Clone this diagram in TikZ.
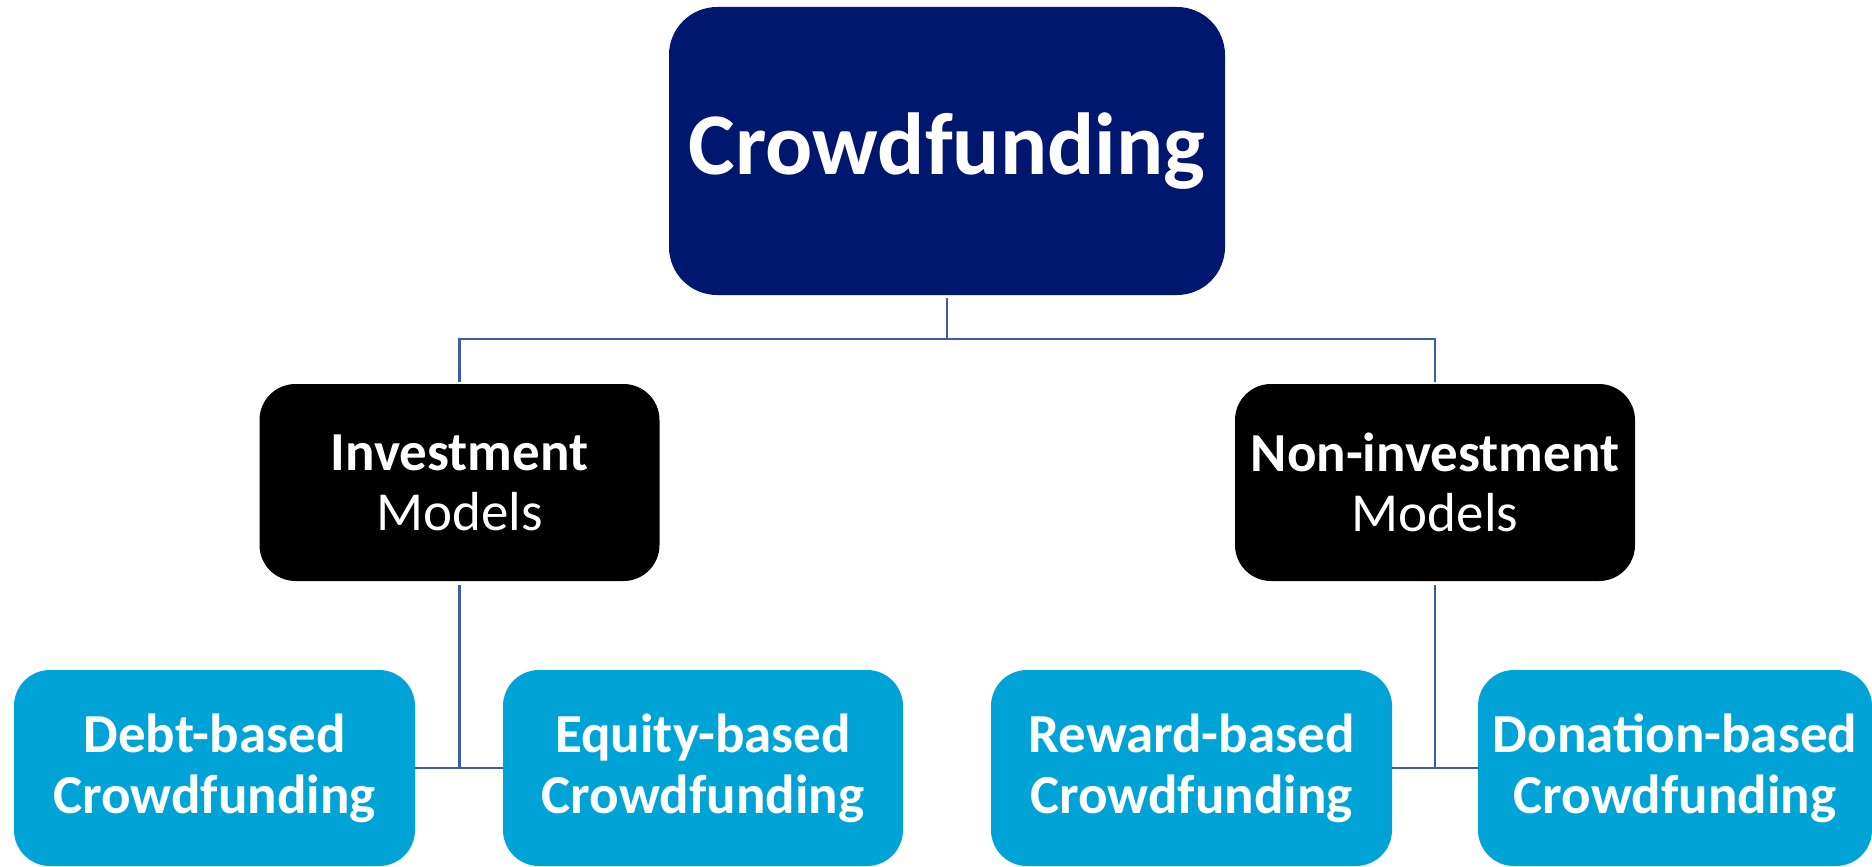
\documentclass[tikz,border=0pt]{standalone}
\usepackage{fontspec}
\setmainfont{Carlito}
\definecolor{navy}{RGB}{0,23,112}
\definecolor{cyanbox}{RGB}{0,163,214}
\definecolor{connblue}{RGB}{64,90,170}
\tikzset{
  topbox/.style={rectangle, rounded corners=48pt, fill=navy, text=white, minimum width=556pt, minimum height=288pt, inner sep=0pt, font=\fontsize{88}{100}\selectfont\bfseries},
  midbox/.style={rectangle, rounded corners=36pt, fill=black, text=white, minimum width=400pt, minimum height=197pt, inner sep=0pt, align=center, font=\fontsize{55}{60}\selectfont},
  leafbox/.style={rectangle, rounded corners=36pt, fill=cyanbox, text=white, minimum width=400pt, minimum height=196pt, inner sep=0pt, align=center, font=\fontsize{55}{61}\selectfont\bfseries},
  conn/.style={draw=connblue, line width=2.8pt},
}
\begin{document}
\begin{tikzpicture}[x=1pt,y=-1pt]
\useasboundingbox (0,0) rectangle (1872,867);
\node[topbox] (top) at (947,151) {Crowdfunding};
\node[midbox] (inv) at (459.5,482.5) {\textbf{Investment}\\Models};
\node[midbox] (noninv) at (1435,482.5) {\textbf{Non-investment}\\Models};
\node[leafbox, minimum width=401pt] (debt) at (214.5,768) {Debt-based\\Crowdfunding};
\node[leafbox] (equity) at (703,768) {Equity-based\\Crowdfunding};
\node[leafbox, minimum width=401pt] (reward) at (1191.5,768) {Reward-based\\Crowdfunding};
\node[leafbox, minimum width=394pt] (donation) at (1675,768) {Donation-based\\Crowdfunding};
\coordinate (fork) at (947,339);
\draw[conn, shorten <=3pt] (top.south) -- (fork);
\draw[conn, shorten <=2pt, shorten >=2pt] (inv.north) |- (fork) -| (noninv.north);
\draw[conn, shorten <=4pt] (inv.south) -- (inv.south |- debt.east);
\draw[conn] (debt.east) -- (equity.west);
\draw[conn, shorten <=4pt] (noninv.south) -- (noninv.south |- reward.east);
\draw[conn] (reward.east) -- (donation.west);
\end{tikzpicture}
\end{document}
